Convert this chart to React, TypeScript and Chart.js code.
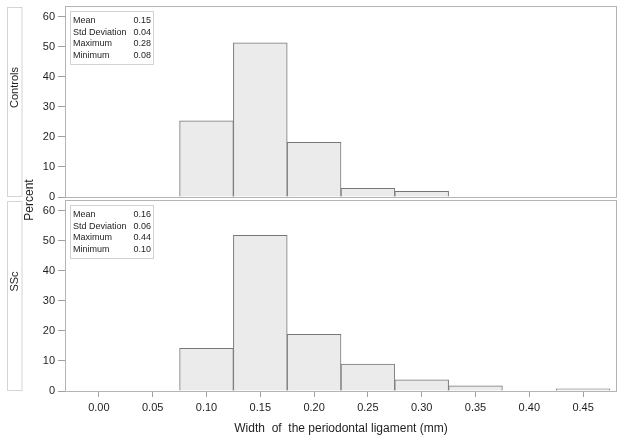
import React, { useEffect, useRef } from 'react';
import { Chart, registerables } from 'chart.js';

Chart.register(...registerables);

// ---- data ----
const binCenters = [0.1, 0.15, 0.2, 0.25, 0.3, 0.35, 0.4, 0.45];
const controlsPercent = [25.4, 51.4, 18.2, 2.9, 1.9];
const sscPercent = [14.2, 51.9, 18.9, 9.0, 3.7, 1.7, 0, 0.7];
const xTicks = [0, 0.05, 0.1, 0.15, 0.2, 0.25, 0.3, 0.35, 0.4, 0.45];
const yTicks = [0, 10, 20, 30, 40, 50, 60];
const statNames = ['Mean', 'Std Deviation', 'Maximum', 'Minimum'];
const controlsStats = ['0.15', '0.04', '0.28', '0.08'];
const sscStats = ['0.16', '0.06', '0.44', '0.10'];
const panelLabels = ['Controls', 'SSc'];
const yTitle = 'Percent';
const xTitle = 'Width  of  the periodontal ligament (mm)';

const X_MIN = -0.0315;
const X_MAX = 0.4815;
const Y_MAX = 63.33;

const FONT = "'Liberation Sans', Arial, sans-serif";
const TEXT = '#1e1e1e';

function makeConfig(values: number[], stats: string[], label: string, isBottom: boolean, canvasTop: number): any {
  const overlay = {
    id: 'overlay' + label,
    afterDraw(chart: any) {
      const ctx = chart.ctx as CanvasRenderingContext2D;
      const a = chart.chartArea;
      ctx.save();
      // frame
      ctx.strokeStyle = '#b4b4b4';
      ctx.lineWidth = 1;
      ctx.strokeRect(Math.round(a.left) + 0.5, Math.round(a.top) - 0.5, Math.round(a.right - a.left) - 1, Math.round(a.bottom - a.top) + 1);
      // stats box
      ctx.strokeStyle = '#d2d2d2';
      const bx = Math.round(a.left) + 5.5;
      const by = Math.round(a.top) + 4.5;
      ctx.strokeRect(bx, by, 83, 53);
      ctx.fillStyle = TEXT;
      ctx.font = `9px ${FONT}`;
      ctx.textBaseline = 'middle';
      statNames.forEach((n, i) => {
        const y = a.top + 13.5 + i * 11.7;
        ctx.textAlign = 'left';
        ctx.fillText(n, bx + 2.5, y);
        ctx.textAlign = 'right';
        ctx.fillText(stats[i], bx + 80.5, y);
      });
      // strip
      ctx.strokeStyle = '#d4d4d4';
      ctx.strokeRect(7.5, Math.round(a.top) + 0.5, 14.5, Math.round(a.bottom - a.top) - 1);
      ctx.save();
      ctx.translate(15, a.top + 80.5);
      ctx.rotate(-Math.PI / 2);
      ctx.font = `11px ${FONT}`;
      ctx.textAlign = 'center';
      ctx.textBaseline = 'middle';
      ctx.fillStyle = TEXT;
      ctx.fillText(label, 0, 0);
      ctx.restore();
      // Percent (split across canvases)
      ctx.save();
      ctx.translate(30, 200 - canvasTop);
      ctx.rotate(-Math.PI / 2);
      ctx.font = `12px ${FONT}`;
      ctx.textAlign = 'center';
      ctx.textBaseline = 'middle';
      ctx.fillStyle = TEXT;
      ctx.fillText(yTitle, 0, 0);
      ctx.restore();
      if (isBottom) {
        ctx.font = `12px ${FONT}`;
        ctx.textAlign = 'center';
        ctx.textBaseline = 'middle';
        ctx.fillStyle = TEXT;
        ctx.fillText(xTitle, (a.left + a.right) / 2, 429 - canvasTop);
      }
      ctx.restore();
    },
  };

  return {
    type: 'bar',
    data: {
      datasets: [
        {
          data: values.map((v, i) => ({ x: binCenters[i], y: v })),
          backgroundColor: '#ebebeb',
          borderColor: '#767676',
          borderWidth: 1,
          barPercentage: 1,
          categoryPercentage: 1,
        },
      ],
    },
    options: {
      animation: false,
      responsive: false,
      devicePixelRatio: 1,
      layout: { padding: isBottom ? { top: 1, right: 7, bottom: 0, left: 0 } : { top: 7, right: 7, bottom: 3, left: 0 } },
      plugins: { legend: { display: false }, tooltip: { enabled: false } },
      scales: {
        x: {
          type: 'linear',
          min: X_MIN,
          max: X_MAX,
          offset: false,
          display: isBottom,
          border: { display: false },
          grid: { display: true, offset: false, drawOnChartArea: false, drawTicks: true, tickLength: 6, color: '#a0a0a0' },
          ticks: {
            font: { family: FONT, size: 11 },
            color: TEXT,
            padding: 4,
            maxRotation: 0,
            autoSkip: false,
            callback: (v: number) => Number(v).toFixed(2),
          },
          afterBuildTicks: (axis: any) => {
            axis.ticks = xTicks.map((v) => ({ value: v }));
          },
          afterFit: (s: any) => {
            if (isBottom) s.height = 51;
            s.paddingLeft = 0;
            s.paddingRight = 0;
            s.paddingTop = 0;
            s.paddingBottom = 0;
          },
        },
        y: {
          type: 'linear',
          min: 0,
          max: Y_MAX,
          border: { display: false },
          grid: { display: true, drawOnChartArea: false, drawTicks: true, tickLength: 7, color: '#a0a0a0' },
          ticks: { font: { family: FONT, size: 11 }, color: TEXT, padding: 3 },
          afterBuildTicks: (axis: any) => {
            axis.ticks = yTicks.map((v) => ({ value: v }));
          },
          afterFit: (s: any) => {
            s.width = 65;
            s.paddingTop = 0;
            s.paddingBottom = 0;
            s.paddingLeft = 0;
            s.paddingRight = 0;
          },
        },
      },
    },
    plugins: [overlay],
  };
}

function Panel(props: { values: number[]; stats: string[]; label: string; isBottom: boolean; top: number; height: number }) {
  const ref = useRef<HTMLCanvasElement>(null);
  useEffect(() => {
    const chart = new Chart(ref.current as HTMLCanvasElement, makeConfig(props.values, props.stats, props.label, props.isBottom, props.top));
    return () => chart.destroy();
  }, []);
  return (
    <canvas
      ref={ref}
      width={624}
      height={props.height}
      style={{ position: 'absolute', left: 0, top: props.top, width: 624, height: props.height, display: 'block' }}
    />
  );
}

export default function App() {
  return (
    <div style={{ position: 'absolute', left: 0, top: 0, width: 624, height: 442, background: '#ffffff', overflow: 'hidden' }}>
      <Panel values={controlsPercent} stats={controlsStats} label={panelLabels[0]} isBottom={false} top={0} height={200} />
      <Panel values={sscPercent} stats={sscStats} label={panelLabels[1]} isBottom={true} top={200} height={242} />
    </div>
  );
}
